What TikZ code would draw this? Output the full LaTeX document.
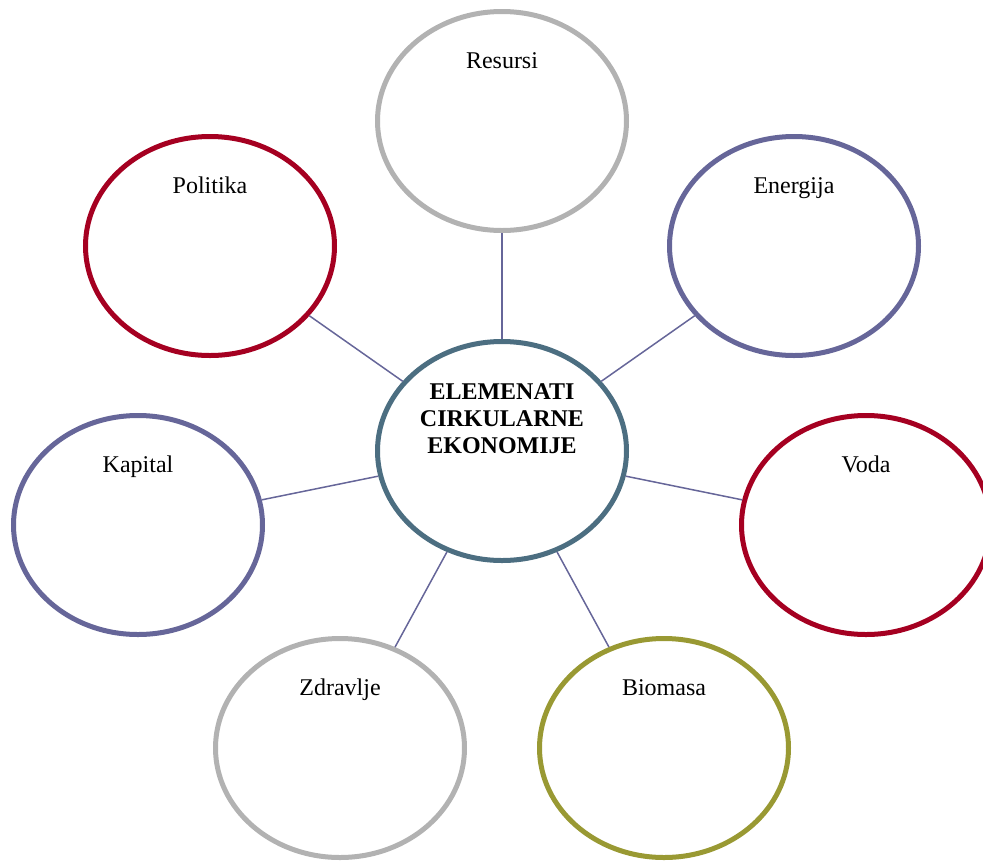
\documentclass[tikz,border=0pt]{standalone}
\usepackage{fontspec}
\setmainfont{Liberation Serif}
\usetikzlibrary{shapes.geometric}
\definecolor{crimson}{HTML}{A50021}
\definecolor{slateblue}{HTML}{666699}
\definecolor{silver}{HTML}{B2B2B2}
\definecolor{moss}{HTML}{999933}
\definecolor{steel}{HTML}{4C6E81}
\begin{document}
\begin{tikzpicture}[x=1pt, y=-1pt,
	bubble/.style={ellipse, draw=#1, line width=5pt, minimum width=249pt, minimum height=219pt, inner sep=0pt},
	tag/.style={anchor=base, inner sep=0pt, font=\fontsize{24}{27}\selectfont},
	link/.style={draw=slateblue, line width=1.5pt}]
	\useasboundingbox (0,0) rectangle (983,860);
	\clip (0,0) rectangle (983,860);
	% centre
	\node[bubble=steel] (jezgro) at (502,451) {};
	\node[tag, anchor=north, align=center, font=\bfseries\fontsize{24}{27}\selectfont] (jezgro-txt) at ([yshift=68pt]jezgro.center) {ELEMENATI\\CIRKULARNE\\EKONOMIJE};
	% elements
	\node[bubble=silver] (resursi) at (502,121) {};
	\node[bubble=slateblue] (energija) at (794,246) {};
	\node[bubble=crimson] (voda) at (866,525) {};
	\node[bubble=moss] (biomasa) at (664,748) {};
	\node[bubble=silver] (zdravlje) at (340,748) {};
	\node[bubble=slateblue] (kapital) at (138,525) {};
	\node[bubble=crimson] (politika) at (210,246) {};
	\node[tag] (resursi-txt) at ([yshift=53pt]resursi.center) {Resursi};
	\node[tag] (energija-txt) at ([yshift=53pt]energija.center) {Energija};
	\node[tag] (voda-txt) at ([yshift=53pt]voda.center) {Voda};
	\node[tag] (biomasa-txt) at ([yshift=53pt]biomasa.center) {Biomasa};
	\node[tag] (zdravlje-txt) at ([yshift=53pt]zdravlje.center) {Zdravlje};
	\node[tag] (kapital-txt) at ([yshift=53pt]kapital.center) {Kapital};
	\node[tag] (politika-txt) at ([yshift=53pt]politika.center) {Politika};
	% connectors
	\draw[link] (jezgro) -- (resursi);
	\draw[link] (jezgro) -- (energija);
	\draw[link] (jezgro) -- (voda);
	\draw[link] (jezgro) -- (biomasa);
	\draw[link] (jezgro) -- (zdravlje);
	\draw[link] (jezgro) -- (kapital);
	\draw[link] (jezgro) -- (politika);
\end{tikzpicture}
\end{document}
